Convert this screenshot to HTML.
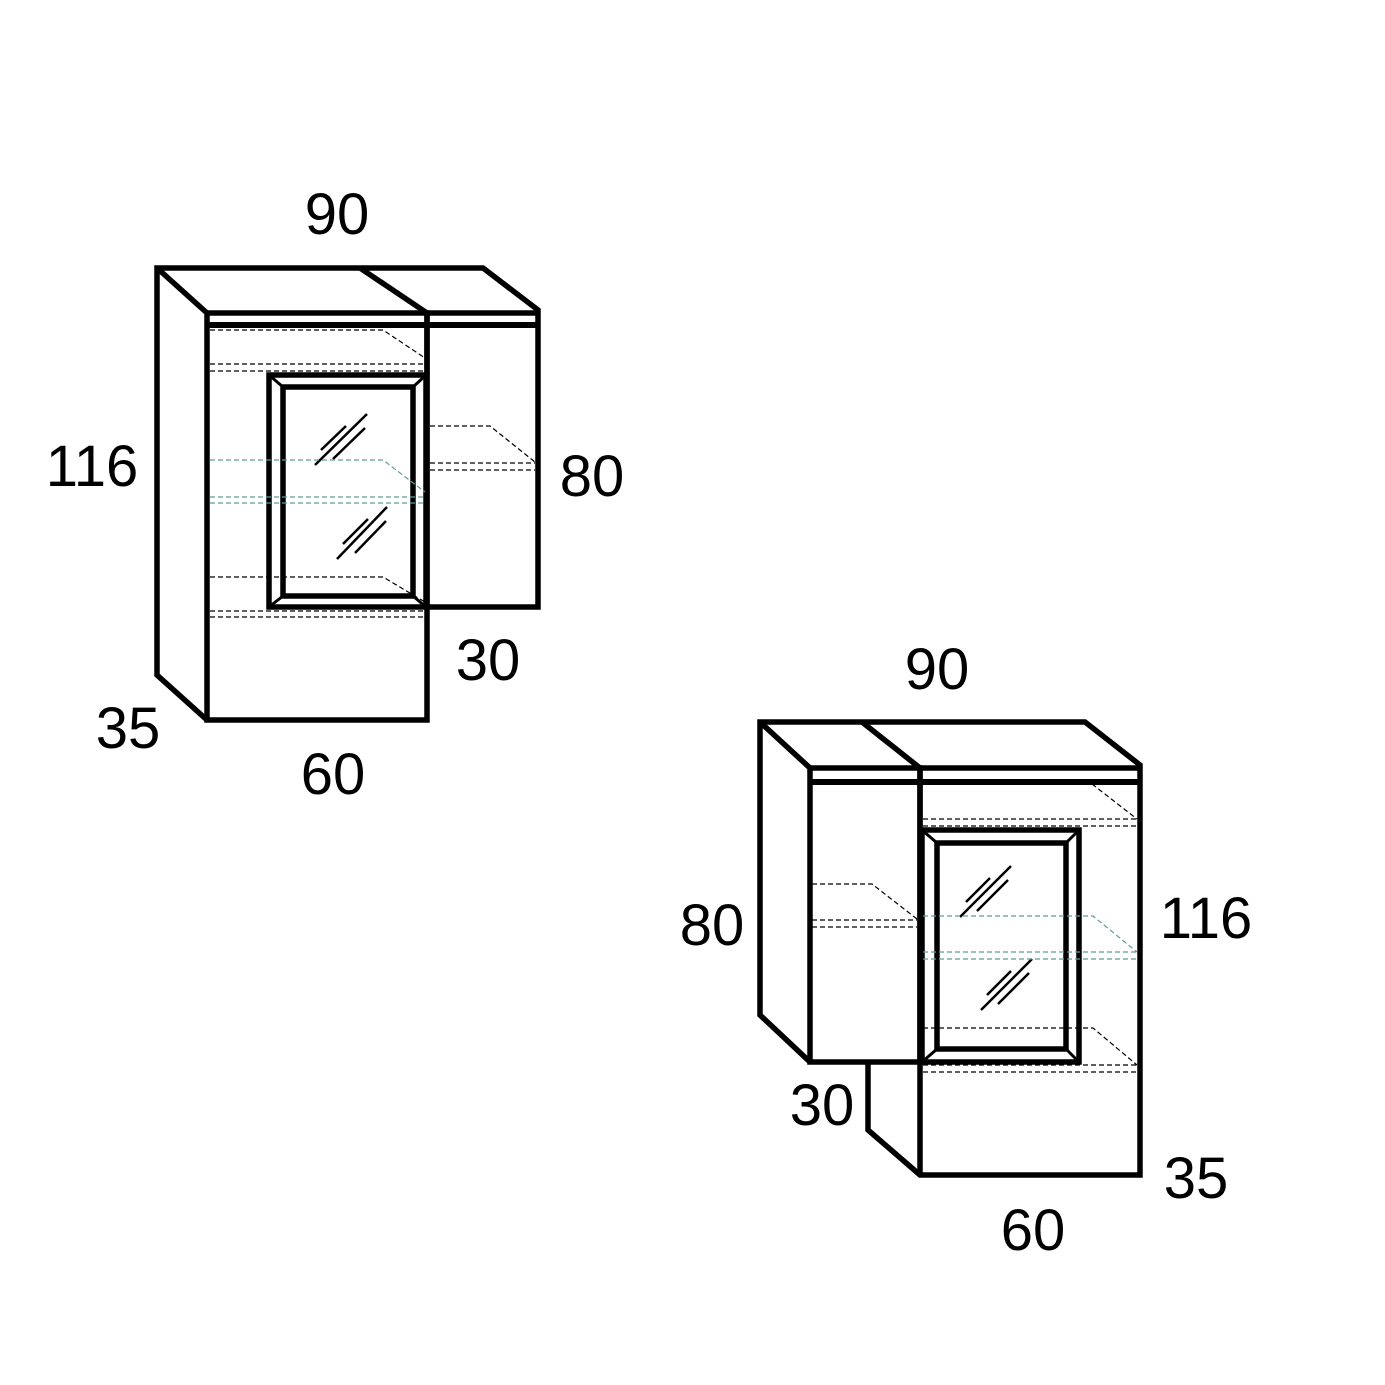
<!DOCTYPE html>
<html><head><meta charset="utf-8"><style>html,body{margin:0;padding:0;background:#fff}svg{display:block}</style></head><body>
<svg width="1385" height="1385" viewBox="0 0 1385 1385" xmlns="http://www.w3.org/2000/svg">
<g fill="none" stroke="#000" stroke-width="5.5" stroke-linejoin="miter">
<!-- cabinet 1 -->
<polyline points="207,720 157,675 157,268 483,268 538,310 538,607 427,607"/>
<line x1="157" y1="268" x2="207" y2="313"/>
<line x1="360" y1="268" x2="427" y2="313"/>
<rect x="207" y="313" width="220" height="407"/>
<line x1="427" y1="313" x2="538" y2="313"/>
<line x1="207" y1="325" x2="538" y2="325" stroke-width="6"/>
<line x1="427" y1="313" x2="427" y2="607"/>
<rect x="269" y="375" width="157" height="232"/>
<rect x="283" y="387" width="130" height="209"/>
<line x1="269" y1="375" x2="283" y2="387" stroke-width="3"/>
<line x1="426" y1="375" x2="413" y2="387" stroke-width="3"/>
<line x1="269" y1="607" x2="283" y2="596" stroke-width="3"/>
<line x1="426" y1="607" x2="413" y2="596" stroke-width="3"/>
<!-- cabinet 2 -->
<polyline points="810,1062 760,1015 760,722 1085,722 1140,765 1140,1175 920,1175 868,1130 868,1062"/>
<line x1="760" y1="722" x2="810" y2="768"/>
<line x1="862" y1="722" x2="920" y2="768"/>
<rect x="810" y="768" width="110" height="294"/>
<line x1="920" y1="768" x2="1140" y2="768"/>
<line x1="810" y1="782" x2="1140" y2="782" stroke-width="6"/>
<line x1="920" y1="768" x2="920" y2="1175"/>
<rect x="922" y="830" width="157" height="232"/>
<rect x="937" y="843" width="129" height="206"/>
<line x1="922" y1="830" x2="937" y2="843" stroke-width="3"/>
<line x1="1079" y1="830" x2="1066" y2="843" stroke-width="3"/>
<line x1="922" y1="1062" x2="937" y2="1049" stroke-width="3"/>
<line x1="1079" y1="1062" x2="1066" y2="1049" stroke-width="3"/>
</g>
<g fill="none" stroke="#000" stroke-width="2.5">
<line x1="315" y1="465" x2="367" y2="414"/><line x1="321" y1="450" x2="346" y2="426"/><line x1="333" y1="459" x2="365" y2="428"/>
<line x1="337" y1="559" x2="387" y2="507"/><line x1="343" y1="544" x2="368" y2="519"/><line x1="355" y1="553" x2="386" y2="521"/>
<line x1="960" y1="917" x2="1011" y2="866"/><line x1="966" y1="902" x2="990" y2="878"/><line x1="977" y1="911" x2="1008" y2="880"/>
<line x1="981" y1="1010" x2="1032" y2="959"/><line x1="987" y1="995" x2="1011" y2="971"/><line x1="998" y1="1004" x2="1029" y2="973"/>
</g>
<g fill="none" stroke="#000" stroke-width="1.2" stroke-dasharray="5,3">
<polyline points="210,330 383,330 425,358"/><line x1="210" y1="364" x2="425" y2="364"/><line x1="210" y1="371" x2="425" y2="371"/>
<polyline points="430,426 490,426 535,462"/><line x1="430" y1="463" x2="535" y2="463"/><line x1="430" y1="470" x2="535" y2="470"/>
<polyline points="210,577 383,577 425,602"/><line x1="210" y1="611" x2="425" y2="611"/><line x1="210" y1="617" x2="425" y2="617"/>
<polyline points="812,884 872,884 917,919"/><line x1="812" y1="920" x2="917" y2="920"/><line x1="812" y1="927" x2="917" y2="927"/>
<line x1="1092" y1="784" x2="1137" y2="819"/><line x1="923" y1="819" x2="1137" y2="819"/><line x1="923" y1="826" x2="1137" y2="826"/>
<polyline points="923,1028 1093,1028 1137,1065"/><line x1="923" y1="1065" x2="1137" y2="1065"/><line x1="923" y1="1072" x2="1137" y2="1072"/>
</g>
<g fill="none" stroke="#5f9a9a" stroke-width="1.2" stroke-dasharray="5,3">
<polyline points="210,460 383,460 425,492"/><line x1="210" y1="497" x2="425" y2="497"/><line x1="210" y1="503" x2="425" y2="503"/>
<polyline points="923,916 1093,916 1137,952"/><line x1="923" y1="952" x2="1137" y2="952"/><line x1="923" y1="959" x2="1137" y2="959"/>
</g>
<g font-family="'Liberation Sans',sans-serif" font-size="58" fill="#000" text-anchor="middle">
<text x="337" y="234">90</text>
<text x="92" y="486">116</text>
<text x="592" y="496">80</text>
<text x="488" y="680">30</text>
<text x="128" y="748">35</text>
<text x="333" y="794">60</text>
<text x="937" y="689">90</text>
<text x="712" y="945">80</text>
<text x="1206" y="938">116</text>
<text x="822" y="1125">30</text>
<text x="1196" y="1198">35</text>
<text x="1033" y="1250">60</text>
</g>
</svg>
</body></html>
